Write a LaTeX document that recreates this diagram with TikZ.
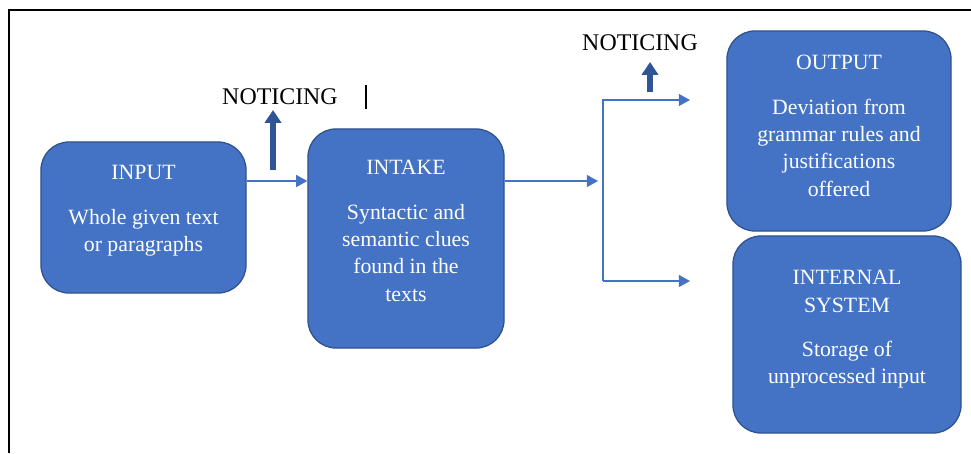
\documentclass[tikz,border=0pt]{standalone}
\usepackage{fontspec}
\setmainfont{Liberation Serif}
\usepackage{tikz}
\usetikzlibrary{
    arrows.meta,
    positioning
}
\definecolor{BoxBlue}{RGB}{68,114,196}
\definecolor{BoxEdge}{RGB}{47,82,143}
\definecolor{LinkBlue}{RGB}{68,114,196}
\definecolor{NoticeBlue}{RGB}{47,85,151}
\tikzset{
  stage/.style   = {draw=BoxEdge, line width=0.9pt, fill=BoxBlue,
                    rounded corners=0.7cm},
  stagetxt/.style= {text=white, align=center,
                    font=\fontsize{15.5}{19.5}\selectfont},
  conn/.style    = {-{Triangle[length=0.28cm,width=0.3cm]}, draw=LinkBlue,
                    line width=0.9pt},
  notice/.style  = {-{Triangle[length=0.32cm,width=0.4cm]}, draw=NoticeBlue,
                    line width=4.4pt}
}

\begin{document}
\begin{tikzpicture}[
    x=0.025cm, y=-0.025cm,
    tag/.style={font=\fontsize{17}{20}\selectfont, text=black},
    frame/.style={draw=black, line width=1.4pt}
]
\useasboundingbox (0,0) rectangle (971,453);

% frame
\draw[frame] (971,10) -- (9,10) -- (9,453);

% stages
\node[stage, minimum width=5.125cm, minimum height=3.775cm] (input)    at (143.5,217.5) {};
\node[stage, minimum width=4.9cm,   minimum height=5.475cm] (intake)   at (406,238.5)   {};
\node[stage, minimum width=5.6cm,   minimum height=5cm]     (output)   at (839,131)     {};
\node[stage, minimum width=5.7cm,   minimum height=4.925cm] (internal) at (847,334.5)   {};

\node[stagetxt] (inputtxt)    at (input.center    |- 0,211)   {INPUT\\[12pt]Whole given text\\or paragraphs};
\node[stagetxt] (intaketxt)   at (intake.center   |- 0,231)   {INTAKE\\[12pt]Syntactic and\\semantic clues\\found in the\\texts};
\node[stagetxt] (outputtxt)   at (output.center   |- 0,126)   {OUTPUT\\[12pt]Deviation from\\grammar rules and\\justifications\\offered};
\node[stagetxt] (internaltxt) at (internal.center |- 0,329.5) {INTERNAL\\SYSTEM\\[12pt]Storage of\\unprocessed input};

% noticing
\node[tag] (notice1) at (280,96.5) {NOTICING};
\node[tag] (notice2) at (640,43)   {NOTICING};
\coordinate (n1foot) at (273,170); \coordinate (n1head) at (273,110);
\coordinate (n2foot) at (650,92);  \coordinate (n2head) at (650,62);
\draw[notice] (n1foot) -- (n1head);
\draw[notice] (n2foot) -- (n2head);
\coordinate (bartop) at (366,85); \coordinate (barbot) at (366,109);
\draw[black, line width=0.8pt] (bartop) -- (barbot);

% connectors
\coordinate (row)   at (0,181);
\coordinate (split) at (598,181);
\coordinate (btop)  at (603,100); \coordinate (bbot)  at (603,281);
\coordinate (toout) at (690,100); \coordinate (toint) at (690,281);
\draw[conn] (input.east |- row) -- (intake.west |- row);
\draw[conn] (intake.east |- row) -- (split);
\draw[conn] (bbot) -- (toint);
\draw[conn] (bbot) -- (btop) -- (toout);
\end{tikzpicture}
\end{document}
